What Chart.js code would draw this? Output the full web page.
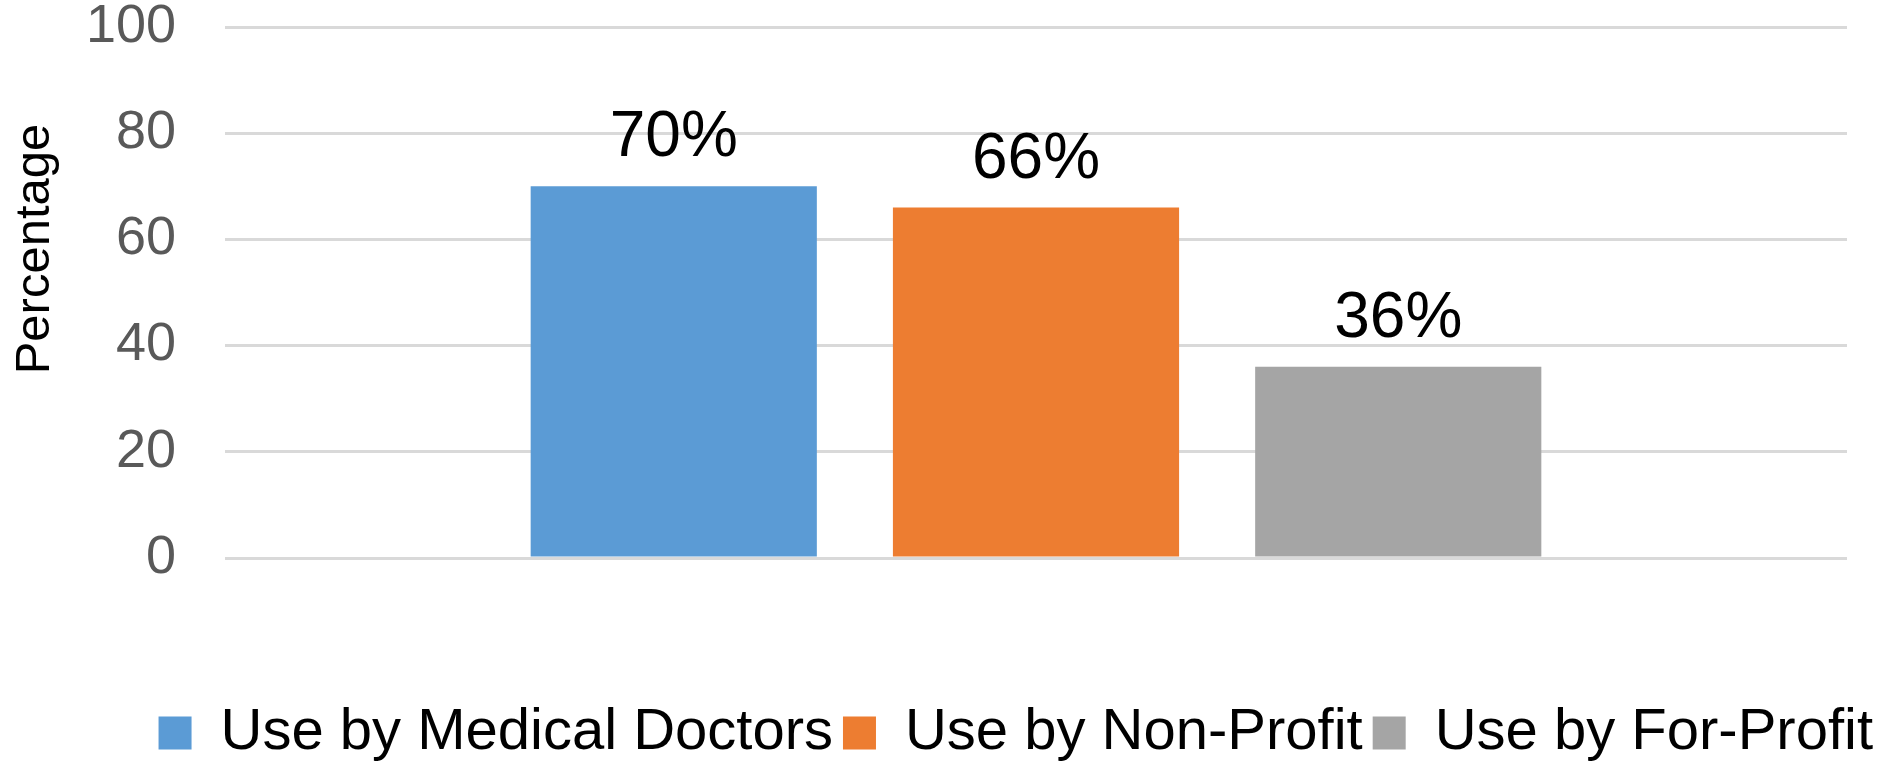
<!DOCTYPE html>
<html>
<head>
<meta charset="utf-8">
<title>Use by Medical Doctors, Non-Profit and For-Profit</title>
<script src="https://cdn.jsdelivr.net/npm/chart.js@4.4.1/dist/chart.umd.min.js"></script>
<style>
  html, body { margin: 0; padding: 0; background: #ffffff; }
  #wrap { width: 1883px; height: 762px; }
</style>
</head>
<body>
<div id="wrap"><canvas id="usageChart"></canvas></div>
<script>
const categories = [''];
const seriesNames = ['Use by Medical Doctors', 'Use by Non-Profit', 'Use by For-Profit'];
const medicalDoctors = [70];
const nonProfit = [66];
const forProfit = [36];
const yTicks = [0, 20, 40, 60, 80, 100];
const seriesColors = ['#5B9BD5', '#ED7D31', '#A5A5A5'];
const yAxisTitle = 'Percentage';

const FONT = "'Liberation Sans', Arial, Helvetica, sans-serif";

// Value labels ("70%") above each bar, plus the rotated y-axis title
const annotations = {
    id: 'annotations',
    afterDatasetsDraw(chart) {
        const ctx = chart.ctx;
        ctx.save();
        ctx.font = `64px ${FONT}`;
        ctx.fillStyle = '#000000';
        ctx.textAlign = 'center';
        ctx.textBaseline = 'alphabetic';
        chart.data.datasets.forEach((ds, i) => {
            chart.getDatasetMeta(i).data.forEach((bar, j) => {
                ctx.fillText(ds.data[j] + '%', bar.x, bar.y - 30);
            });
        });
        ctx.restore();

        // axis title sits a bit above the plot's middle, as in the original
        ctx.save();
        ctx.font = `49px ${FONT}`;
        ctx.fillStyle = '#000000';
        ctx.textAlign = 'center';
        ctx.textBaseline = 'middle';
        ctx.translate(35, 249);
        ctx.rotate(-Math.PI / 2);
        ctx.fillText(yAxisTitle, 0, 0);
        ctx.restore();
    }
};

const seriesValues = [medicalDoctors, nonProfit, forProfit];

new Chart(document.getElementById('usageChart'), {
    type: 'bar',
    data: {
        labels: categories,
        datasets: seriesNames.map((name, i) => ({
            label: name,
            data: seriesValues[i],
            backgroundColor: seriesColors[i],
            borderWidth: 0,
            categoryPercentage: 0.67,
            barPercentage: 0.79
        }))
    },
    options: {
        responsive: true,
        maintainAspectRatio: false,
        animation: false,
        layout: { padding: { top: 0, left: 0, right: 0, bottom: -10 } },
        plugins: {
            tooltip: { enabled: false },
            legend: {
                position: 'bottom',
                align: 'end',
                labels: {
                    boxWidth: 33,
                    boxHeight: 33,
                    padding: 10,
                    color: '#000000',
                    font: { family: FONT, size: 58 }
                }
            }
        },
        scales: {
            x: {
                grid: { display: false },
                border: { display: false },
                ticks: { display: false },
                afterFit(scale) { scale.height = 136; }
            },
            y: {
                min: 0,
                max: 100,
                afterBuildTicks(scale) {
                    scale.ticks = yTicks.map(v => ({ value: v }));
                },
                afterFit(scale) {
                    scale.width = 225;
                    scale.paddingTop = 27;
                    scale.paddingBottom = 27;
                },
                grid: { color: '#D9D9D9', lineWidth: 3, drawTicks: false },
                border: { display: false },
                ticks: {
                    color: '#595959',
                    padding: 49,
                    font: { family: FONT, size: 54 }
                }
            },
            // empty right-hand spacer so the plot ends where the reference does
            yr: {
                position: 'right',
                grid: { display: false },
                border: { display: false },
                ticks: { display: false },
                afterFit(scale) { scale.width = 36; }
            }
        }
    },
    plugins: [annotations]
});
</script>
</body>
</html>
